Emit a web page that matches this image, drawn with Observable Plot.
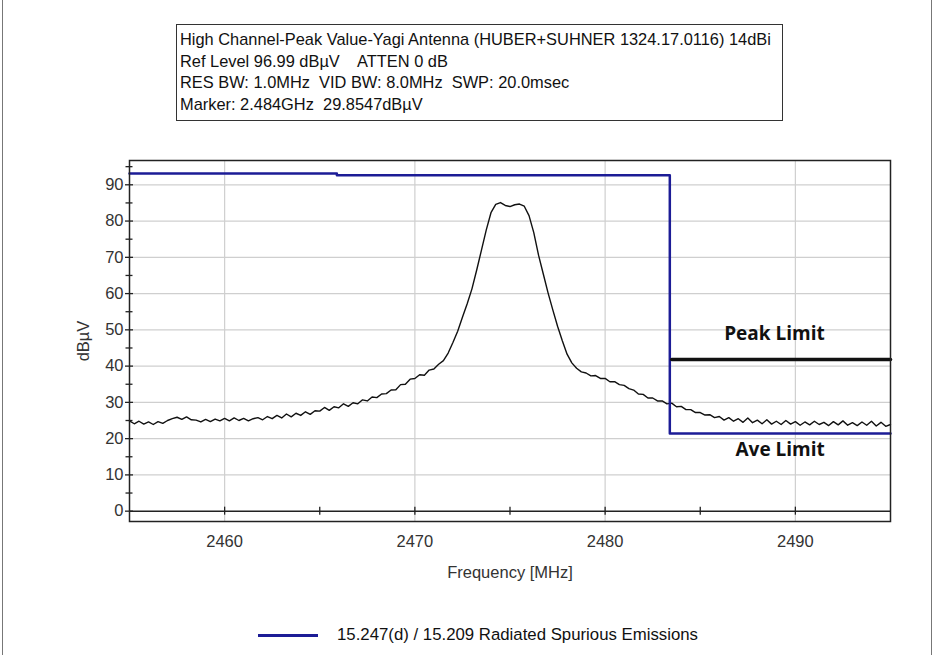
<!DOCTYPE html>
<html>
<head>
<meta charset="utf-8">
<script src="https://cdn.jsdelivr.net/npm/d3@7"></script>
<script src="https://cdn.jsdelivr.net/npm/@observablehq/plot@0.6"></script>
<style>
  html, body { margin: 0; padding: 0; background: #fff; }
  #page { position: relative; width: 935px; height: 655px; overflow: hidden; font-family: "Liberation Sans", Arial, sans-serif; }
  #chart { position: absolute; left: 0; top: 0; }
  #border { position: absolute; left: 2px; top: 0; width: 930px; height: 655px; border-left: 1px solid #777; border-right: 1px solid #777; box-sizing: border-box; pointer-events: none; }
  #header { position: absolute; left: 176px; top: 24px; width: 607px; height: 97px; border: 1px solid #333; box-sizing: border-box; padding: 4px 0 0 3px; font-size: 16.4px; line-height: 21.6px; color: #111; white-space: pre; }
  #legend { position: absolute; left: 258px; top: 624px; height: 22px; display: flex; align-items: center; font-size: 16.8px; color: #111; white-space: pre; }
  #legend .swatch { width: 60px; height: 0; border-top: 3px solid #1c1c96; margin-right: 19px; }
</style>
</head>
<body>
<div id="page">
  <div id="chart"></div>
  <div id="header"></div>
  <div id="legend"></div>
  <div id="border"></div>
</div>
<script>
// ---- header text ----
const headerLines = [
  "High Channel-Peak Value-Yagi Antenna (HUBER+SUHNER 1324.17.0116) 14dBi",
  "Ref Level 96.99 dBµV    ATTEN 0 dB",
  "RES BW: 1.0MHz  VID BW: 8.0MHz  SWP: 20.0msec",
  "Marker: 2.484GHz  29.8547dBµV"
];
const legendLabel = "15.247(d) / 15.209 Radiated Spurious Emissions";

// ---- axes ----
const xDomain = [2455, 2495];
const yDomain = [-2.85, 96.7];
const xLabelTicks = [2460, 2470, 2480, 2490];
const xAllTicks = [2460, 2465, 2470, 2475, 2480, 2485, 2490];
const yMajorTicks = [0, 10, 20, 30, 40, 50, 60, 70, 80, 90];
const yMinorTicks = [5, 15, 25, 35, 45, 55, 65, 75, 85, 95];
const yGridTicks = [10, 20, 30, 40, 50, 60, 70, 80, 90];

// ---- measured trace (dBµV), sweep from 2455 MHz in 0.25 MHz steps ----
const startFreq = 2455;
const stepFreq = 0.25;
const level = [
  24.9, 24.1, 24.8, 24.0, 24.6, 23.9, 24.7, 24.2, 25.0, 25.5,
  25.9, 25.3, 26.0, 25.2, 25.1, 24.6, 25.3, 24.7, 25.4, 24.9,
  25.6, 24.9, 25.7, 25.0, 25.6, 24.9, 25.5, 25.8, 25.2, 26.1,
  25.5, 26.4, 25.7, 26.8, 26.0, 27.0, 26.4, 27.4, 26.7, 27.7,
  27.6, 28.6, 27.8, 28.8, 28.5, 29.6, 28.9, 29.9, 29.6, 30.7,
  30.4, 31.5, 31.3, 32.3, 32.4, 33.4, 33.5, 34.9, 35.0, 36.4,
  36.6, 37.6, 37.5, 38.9, 39.2, 40.5, 41.5, 43.6, 46.5, 49.6,
  53.5, 57.2, 61.3, 66.5, 72.0, 77.5, 82.3, 84.6, 85.1, 84.3,
  84.0, 84.5, 84.7, 84.1, 81.5, 76.8, 70.6, 65.4, 60.2, 55.5,
  51.0, 47.0, 43.3, 40.9, 39.4, 38.4, 38.1, 37.3, 37.4, 36.6,
  36.6, 35.7, 35.7, 34.9, 34.7, 33.8, 33.4, 32.3, 32.2, 31.2,
  31.2, 30.4, 30.4, 29.6, 29.8, 28.8, 28.9, 28.0, 28.0, 27.2,
  27.2, 26.5, 26.6, 25.8, 26.1, 25.1, 25.8, 24.8, 25.5, 24.5,
  25.7, 24.4, 25.1, 24.1, 25.2, 24.0, 24.8, 23.9, 25.0, 24.0,
  24.7, 23.7, 24.6, 23.8, 24.8, 23.9, 24.5, 23.6, 24.7, 23.8,
  24.9, 23.7, 24.4, 23.6, 24.6, 23.7, 24.8, 23.5, 24.5, 23.4,
  23.9
];

// ---- limit lines ----
const limitFreq  = [2455, 2465.9, 2465.9, 2483.4, 2483.4, 2495];
const limitLevel = [93.1, 93.1, 92.6, 92.6, 21.4, 21.4];
const peakLimitFreq  = [2483.5, 2495];
const peakLimitLevel = [41.8, 41.8];

const annotations = [
  {f: 2488.9, v: 48.9, text: "Peak Limit"},
  {f: 2489.2, v: 17.0, text: "Ave Limit"}
];

const trace = level.map((v, i) => ({f: startFreq + i * stepFreq, v}));
const limit = limitFreq.map((f, i) => ({f, v: limitLevel[i]}));
const peakLimit = peakLimitFreq.map((f, i) => ({f, v: peakLimitLevel[i]}));

document.getElementById("header").textContent = headerLines.join("\n");
const lg = document.getElementById("legend");
lg.innerHTML = '<div class="swatch"></div><span></span>';
lg.querySelector("span").textContent = legendLabel;

const chart = Plot.plot({
  width: 935,
  height: 655,
  marginLeft: 129,
  marginRight: 45,
  marginTop: 160,
  marginBottom: 134,
  style: {fontFamily: "Liberation Sans, Arial, sans-serif", fontSize: "16.5px", color: "#222", background: "white"},
  x: {domain: xDomain},
  y: {domain: yDomain},
  marks: [
    Plot.gridY(yGridTicks, {stroke: "#cfcfcf", strokeOpacity: 1, strokeWidth: 1.2}),
    Plot.gridX(xLabelTicks, {stroke: "#cfcfcf", strokeOpacity: 1, strokeWidth: 1.2}),
    Plot.ruleY([0], {stroke: "#222", strokeWidth: 1.5}),
    Plot.ruleY(yMajorTicks, {y: d => d, x1: 2455, x2: 2455, insetLeft: -4, insetRight: -4, stroke: "#222", strokeWidth: 1.3}),
    Plot.ruleY(yMinorTicks, {y: d => d, x1: 2455, x2: 2455, insetLeft: -3.5, insetRight: -3.5, stroke: "#222", strokeWidth: 1.3}),
    Plot.ruleX(xAllTicks, {x: d => d, y1: 0, y2: 0, insetTop: -4, insetBottom: -4, stroke: "#222", strokeWidth: 1.3}),
    Plot.line(trace, {x: "f", y: "v", stroke: "#111", strokeWidth: 1.4}),
    Plot.line(limit, {x: "f", y: "v", stroke: "#1c1c96", strokeWidth: 2.5, curve: "linear"}),
    Plot.line(peakLimit, {x: "f", y: "v", stroke: "#111", strokeWidth: 3.5}),
    Plot.text(annotations, {x: "f", y: "v", text: "text", fontFamily: "Open Sans, Noto Sans, sans-serif", fontWeight: "bold", fontSize: 19, fill: "#111"}),
    Plot.frame({stroke: "#222", strokeWidth: 1.5}),
    Plot.axisY({ticks: yMajorTicks, tickSize: 0, tickPadding: 6, label: "dBµV", labelAnchor: "center", labelArrow: "none", labelOffset: 52, fill: "#333"}),
    Plot.axisX({ticks: xLabelTicks, tickSize: 0, tickPadding: 14, tickFormat: d => String(d), label: "Frequency [MHz]", labelAnchor: "center", labelArrow: "none", labelOffset: 56, fill: "#333"})
  ]
});
document.getElementById("chart").appendChild(chart);
</script>
</body>
</html>
